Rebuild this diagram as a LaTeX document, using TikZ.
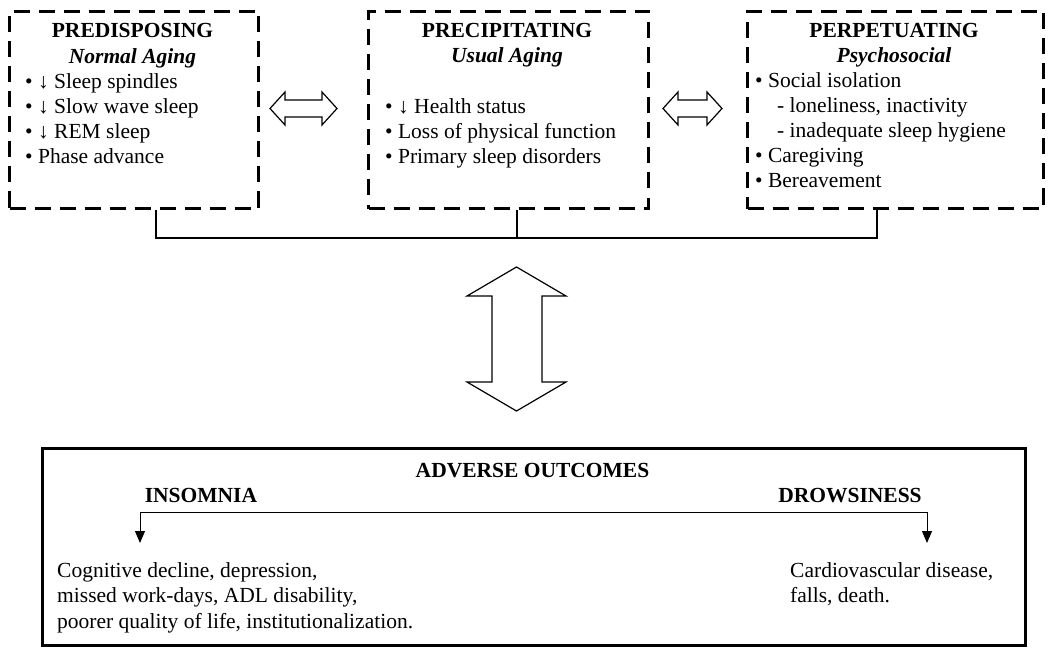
\documentclass[tikz,border=0pt]{standalone}
\usepackage{fontspec}
\setmainfont{Liberation Serif}
\usetikzlibrary{arrows.meta}
\begin{document}
\begin{tikzpicture}[x=1pt,y=-1pt,
  dbox/.style={draw, line width=3pt, dash pattern=on 16pt off 9pt, inner sep=0pt, anchor=north west},
  txt/.style={anchor=base west, inner sep=0pt, font=\fontsize{21.5}{25}\selectfont},
  ttl/.style={anchor=base, inner sep=0pt, font=\fontsize{21.5}{25}\selectfont\bfseries},
  sub/.style={anchor=base, inner sep=0pt, font=\fontsize{21.5}{25}\selectfont\bfseries\itshape},
  blk/.style={draw, line width=1.2pt, fill=white, line join=miter},
  bar/.style={line width=2pt},
  conn/.style={line width=1pt, {Triangle[length=12pt,width=10pt]}-{Triangle[length=12pt,width=10pt]}},
]
\useasboundingbox (0,0) rectangle (1050,650);

% --- top boxes
\node[dbox, minimum width=249pt, minimum height=197pt] (b1) at (8,10) {};
\node[dbox, minimum width=280pt, minimum height=197pt] (b2) at (367,10) {};
\node[dbox, minimum width=296pt, minimum height=197pt] (b3) at (746,10) {};

% box 1 text
\node[ttl] (t1) at (132.5,38) {PREDISPOSING};
\node[sub] (s1) at (132.5,64) {Normal Aging};
\node[txt] (p1) at (25,89) {• ↓ Sleep spindles};
\node[txt] (p2) at (25,114) {• ↓ Slow wave sleep};
\node[txt] (p3) at (25,139) {• ↓ REM sleep};
\node[txt] (p4) at (25,164) {• Phase advance};

% box 2 text
\node[ttl] (t2) at (507,38) {PRECIPITATING};
\node[sub] (s2) at (507,63) {Usual Aging};
\node[txt] (q1) at (385,114) {• ↓ Health status};
\node[txt] (q2) at (385,139) {• Loss of physical function};
\node[txt] (q3) at (385,164) {• Primary sleep disorders};

% box 3 text
\node[ttl] (t3) at (894,38) {PERPETUATING};
\node[sub] (s3) at (894,63) {Psychosocial};
\node[txt] (r1) at (755,88) {• Social isolation};
\node[txt] (r2) at (777,113) {- loneliness, inactivity};
\node[txt] (r3) at (777,138) {- inadequate sleep hygiene};
\node[txt] (r4) at (755,163) {• Caregiving};
\node[txt] (r5) at (755,188) {• Bereavement};

% --- horizontal double arrows
\draw[blk] (270,108.5) -- (285,92) -- (285,100) -- (322,100) -- (322,92) -- (337,108.5)
  -- (322,125) -- (322,117) -- (285,117) -- (285,125) -- cycle;
\draw[blk] (663,108.5) -- (678,92) -- (678,100) -- (707,100) -- (707,92) -- (722,108.5)
  -- (707,125) -- (707,117) -- (678,117) -- (678,125) -- cycle;

% --- joining bar
\coordinate (j1) at (156,238);
\coordinate (j2) at (517,238);
\coordinate (j3) at (877,238);
\draw[bar] (j1 |- b1.south) -- (j1) -- (j3) -- (j3 |- b3.south);
\draw[line width=1.5pt] (j2 |- b2.south) -- (j2);

% --- vertical double arrow
\draw[blk] (516.5,267) -- (566,296) -- (542,296) -- (542,382) -- (566,382) -- (516.5,411)
  -- (467,382) -- (492,382) -- (492,296) -- (467,296) -- cycle;

% --- outcomes box
\node[draw, line width=2.5pt, inner sep=0pt, anchor=north west, minimum width=983pt, minimum height=197pt] (out) at (41,447) {};
\node[ttl] (ao) at (532.5,477) {ADVERSE OUTCOMES};
\node[ttl] (ins) at (201,502) {INSOMNIA};
\node[ttl] (dro) at (850,502) {DROWSINESS};

\coordinate (tl) at (140,512);
\coordinate (tr) at (927,512);
\coordinate (al) at (140,543);
\coordinate (ar) at (927,543);
\draw[conn] (al) -- (tl) -- (tr) -- (ar);

\node[txt] (l1) at (57,577) {Cognitive decline, depression,};
\node[txt] (l2) at (57,602) {missed work-days, ADL disability,};
\node[txt] (l3) at (57,628) {poorer quality of life, institutionalization.};
\node[txt] (d1) at (790,577) {Cardiovascular disease,};
\node[txt] (d2) at (790,602) {falls, death.};
\end{tikzpicture}
\end{document}
